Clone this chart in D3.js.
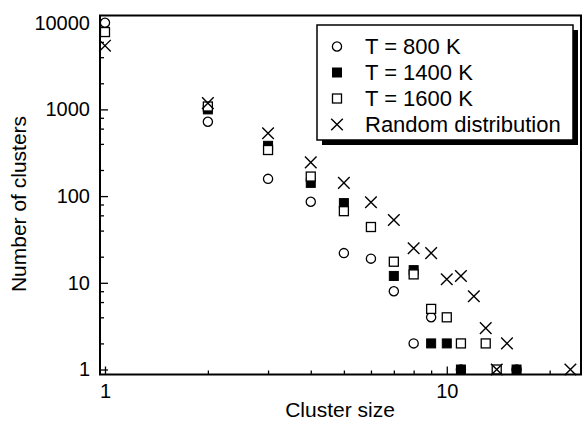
<!DOCTYPE html>
<html>
<head>
<meta charset="utf-8">
<script src="https://cdn.jsdelivr.net/npm/d3@7"></script>
<style>
  html, body { margin: 0; padding: 0; background: #fff; }
  svg { display: block; font-family: "Liberation Sans", Arial, Helvetica, sans-serif; }
</style>
</head>
<body>
<svg id="chart" width="585" height="439"></svg>
<script>
// Cluster-size distributions (log-log)
const t800Sizes   = [1, 2, 3, 4, 5, 6, 7, 8, 9, 11, 16];
const t800Counts  = [10000, 720, 158, 86, 22, 19, 8, 2, 4, 1, 1];

const t1400Sizes  = [1, 2, 3, 4, 5, 6, 7, 8, 9, 10, 11, 16];
const t1400Counts = [7800, 1000, 380, 142, 83, 44, 12, 14, 2, 2, 1, 1];

const t1600Sizes  = [1, 2, 3, 4, 5, 6, 7, 8, 9, 10, 11, 13, 14];
const t1600Counts = [7800, 1080, 340, 168, 67, 44, 17.5, 12.5, 5, 4, 2, 2, 1];

const randomSizes  = [1, 2, 3, 4, 5, 6, 7, 8, 9, 10, 11, 12, 13, 14, 15, 23];
const randomCounts = [5430, 1180, 530, 245, 142, 85, 53, 25, 22, 11, 12, 7, 3, 1, 2, 1];

const seriesNames = ["T = 800 K", "T = 1400 K", "T = 1600 K", "Random distribution"];
const seriesSymbols = ["circle", "filledSquare", "openSquare", "cross"];

const xMajorTicks = [1, 10];
const xMinorTicks = [2, 3, 4, 5, 6, 7, 8, 9, 20];
const yMajorTicks = [1, 10, 100, 1000, 10000];
const yMinorTicks = [2, 4, 6, 8, 20, 40, 60, 80, 200, 400, 600, 800, 2000, 4000, 6000, 8000];

const xDomain = [0.967, 24.7];
const yDomain = [0.876, 12100];

const xTitle = "Cluster size";
const yTitle = "Number of clusters";

// ---- layout ----
const plot = { left: 100, right: 581, top: 15.5, bottom: 374.5 };

const svg = d3.select("#chart");

const x = d3.scaleLog().domain(xDomain).range([plot.left, plot.right]);
const y = d3.scaleLog().domain(yDomain).range([plot.bottom, plot.top]);

const zip = (xs, ys) => xs.map((s, i) => ({ size: s, count: ys[i] }));
const series = [
  zip(t800Sizes, t800Counts),
  zip(t1400Sizes, t1400Counts),
  zip(t1600Sizes, t1600Counts),
  zip(randomSizes, randomCounts)
];

// marker drawing
const R = 4.6, SQ = 9, XS = 5.8;
function drawSymbol(g, type) {
  if (type === "circle") {
    g.append("circle").attr("r", R).attr("fill", "#fff").attr("stroke", "#000").attr("stroke-width", 1.3);
  } else if (type === "filledSquare") {
    g.append("rect").attr("x", -SQ / 2).attr("y", -SQ / 2).attr("width", SQ).attr("height", SQ)
      .attr("fill", "#000").attr("stroke", "#000").attr("stroke-width", 1);
  } else if (type === "openSquare") {
    g.append("rect").attr("x", -SQ / 2).attr("y", -SQ / 2).attr("width", SQ).attr("height", SQ)
      .attr("fill", "#fff").attr("stroke", "#000").attr("stroke-width", 1.3);
  } else {
    g.append("path").attr("d", `M${-XS},${-XS}L${XS},${XS}M${-XS},${XS}L${XS},${-XS}`)
      .attr("fill", "none").attr("stroke", "#000").attr("stroke-width", 1.4);
  }
}

// ---- axes ----
const xAxisG = svg.append("g").attr("transform", `translate(0,${plot.bottom})`);
xAxisG.append("g")
  .call(d3.axisBottom(x).tickValues(xMajorTicks).tickFormat(d3.format("d")).tickSizeInner(-8).tickSizeOuter(0).tickPadding(9))
  .call(g => g.select(".domain").remove());
xAxisG.append("g")
  .call(d3.axisBottom(x).tickValues(xMinorTicks).tickFormat("").tickSizeInner(-4).tickSizeOuter(0))
  .call(g => g.select(".domain").remove());

const yAxisG = svg.append("g").attr("transform", `translate(${plot.left},0)`);
yAxisG.append("g")
  .call(d3.axisLeft(y).tickValues(yMajorTicks).tickFormat(d3.format("d")).tickSizeInner(-8).tickSizeOuter(0).tickPadding(10))
  .call(g => g.select(".domain").remove());
yAxisG.append("g")
  .call(d3.axisLeft(y).tickValues(yMinorTicks).tickFormat("").tickSizeInner(-4).tickSizeOuter(0))
  .call(g => g.select(".domain").remove());

svg.selectAll(".tick line").attr("stroke", "#000").attr("stroke-width", 1.3);
svg.selectAll(".tick text").attr("fill", "#000").attr("font-size", 20)
  .attr("font-family", "Liberation Sans, Arial, Helvetica, sans-serif");

// ---- points (drawn in series order so open squares overlay filled ones) ----
series.forEach((data, si) => {
  const g = svg.append("g");
  data.forEach(d => {
    const m = g.append("g").attr("transform", `translate(${x(d.size)},${y(d.count)})`);
    drawSymbol(m, seriesSymbols[si]);
  });
});

// ---- frame ----
svg.append("rect")
  .attr("x", plot.left).attr("y", plot.top)
  .attr("width", plot.right - plot.left).attr("height", plot.bottom - plot.top)
  .attr("fill", "none").attr("stroke", "#000").attr("stroke-width", 2);

// ---- axis titles ----
svg.append("text")
  .attr("x", 340).attr("y", 417)
  .attr("text-anchor", "middle").attr("font-size", 21).attr("fill", "#000")
  .text(xTitle);
svg.append("text")
  .attr("transform", "translate(26,204) rotate(-90)")
  .attr("text-anchor", "middle").attr("font-size", 21).attr("fill", "#000")
  .text(yTitle);

// ---- legend ----
const legend = { x: 317, y: 25, w: 256, h: 115, shadow: 5, rowY0: 46.5, rowStep: 26, symX: 337, textX: 365 };
svg.append("rect")
  .attr("x", legend.x + legend.shadow).attr("y", legend.y + legend.shadow)
  .attr("width", legend.w).attr("height", legend.h).attr("fill", "#000");
svg.append("rect")
  .attr("x", legend.x).attr("y", legend.y).attr("width", legend.w).attr("height", legend.h)
  .attr("fill", "#fff").attr("stroke", "#000").attr("stroke-width", 1.5);
seriesNames.forEach((name, i) => {
  const cy = legend.rowY0 + i * legend.rowStep;
  const m = svg.append("g").attr("transform", `translate(${legend.symX},${cy})`);
  drawSymbol(m, seriesSymbols[i]);
  svg.append("text")
    .attr("x", legend.textX).attr("y", cy).attr("dy", "0.36em")
    .attr("font-size", 22).attr("fill", "#000")
    .text(name);
});
</script>
</body>
</html>
